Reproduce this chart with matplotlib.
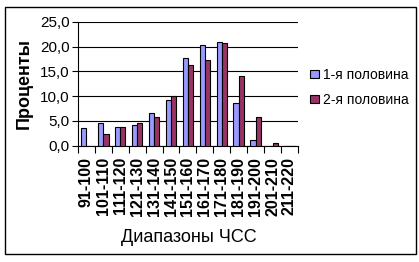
import matplotlib.pyplot as plt
from matplotlib.patches import Rectangle
import numpy as np

plt.rcParams['font.family'] = ['Liberation Sans', 'DejaVu Sans']

ranges = ['91-100', '101-110', '111-120', '121-130', '131-140', '141-150',
          '151-160', '161-170', '171-180', '181-190', '191-200', '201-210',
          '211-220']
first_half = [3.5, 4.5, 3.7, 4.2, 6.5, 9.2, 17.6, 20.4, 21.0, 8.7, 1.1, 0.0, 0.0]
second_half = [0.0, 2.3, 3.7, 4.5, 5.7, 10.1, 16.2, 17.2, 20.8, 14.0, 5.8, 0.5, 0.0]
yticks = [0, 5, 10, 15, 20, 25]

fig = plt.figure(figsize=(4.19, 2.62), dpi=100)
ax = fig.add_axes([0.186, 0.444, 0.525, 0.473])

x = np.arange(len(ranges))
w = 0.31
ax.bar(x - w / 2, first_half, w, color='#9999FF', edgecolor='black',
       linewidth=0.8, label='1-я половина', zorder=3)
ax.bar(x + w / 2, second_half, w, color='#993366', edgecolor='black',
       linewidth=0.8, label='2-я половина', zorder=3)

ax.set_xlim(-0.5, len(ranges) - 0.5)
ax.set_ylim(0, 25)
ax.set_yticks(yticks)
ax.set_yticklabels([f'{v:.1f}'.replace('.', ',') for v in yticks], fontsize=11)
ax.yaxis.grid(True, color='black', linewidth=0.8, zorder=0)

# ticks at category boundaries, labels in centres
ax.set_xticks(np.arange(len(ranges) + 1) - 0.5)
ax.set_xticklabels([])
ax.set_xticks(x, minor=True)
ax.set_xticklabels(ranges, minor=True, rotation=90, fontsize=11.5,
                   fontweight='bold', va='top')
ax.tick_params(axis='x', which='minor', length=0, pad=8)
ax.tick_params(axis='x', which='major', length=5, width=0.8, direction='out')
ax.tick_params(axis='y', length=4, width=0.8, direction='out', pad=2)

for side in ['top', 'right']:
    ax.spines[side].set_visible(False)
ax.spines['left'].set_linewidth(0.8)
ax.spines['bottom'].set_linewidth(0.8)

ax.set_ylabel('Проценты', fontsize=13, fontweight='bold', labelpad=5)
fig.text(0.45, 0.095, 'Диапазоны ЧСС', fontsize=13, ha='center', va='center')

ax.legend(loc='center left', bbox_to_anchor=(1.0, 0.47), frameon=False,
          fontsize=10, handlelength=0.6, handleheight=0.6, handletextpad=0.3,
          labelspacing=0.8, borderaxespad=0.5)

fig.patches.append(Rectangle((0.012, 0.03), 0.98, 0.945, transform=fig.transFigure,
                             fill=False, edgecolor='black', linewidth=1))

fig.savefig('out.png', dpi=100)
